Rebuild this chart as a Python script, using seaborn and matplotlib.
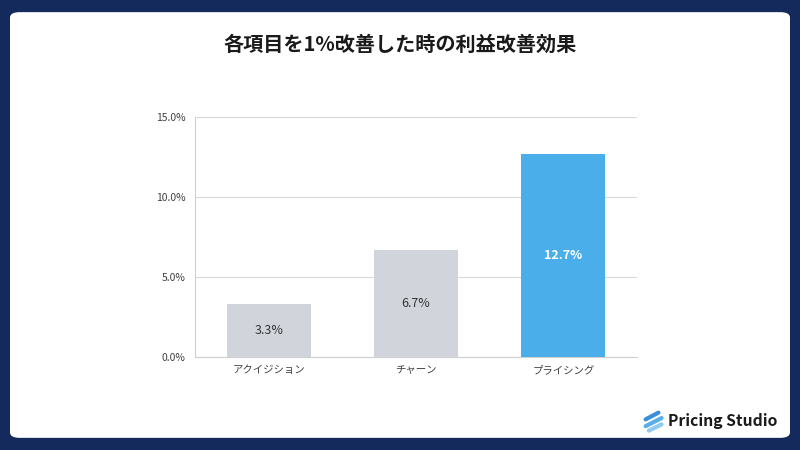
import pandas as pd
import matplotlib.pyplot as plt
import seaborn as sns
from matplotlib.patches import FancyBboxPatch
from matplotlib.ticker import FuncFormatter, FixedLocator
from matplotlib.lines import Line2D

# データ
項目 = ['アクイジション', 'チャーン', 'プライシング']
改善効果 = [0.033, 0.067, 0.127]
色 = ['#d1d5db', '#d1d5db', '#4aaeea']
ラベル色 = ['#333333', '#333333', '#ffffff']

df = pd.DataFrame({'項目': 項目, '効果': 改善効果})

sns.set_style('white')
plt.rcParams['font.family'] = ['Noto Sans CJK JP', 'DejaVu Sans']

fig = plt.figure(figsize=(8, 4.5), dpi=100)
fig.patch.set_facecolor('#142a5c')

# 白いカード
card = FancyBboxPatch((0.0125, 0.027), 0.975, 0.946,
                      boxstyle='round,pad=0,rounding_size=0.012',
                      transform=fig.transFigure, facecolor='white',
                      edgecolor='none', zorder=-10)
fig.add_artist(card)

fig.text(0.5, 0.902, '各項目を1%改善した時の利益改善効果', ha='center', va='center',
         fontsize=14.5, fontweight='bold', color='#1a1a1a')

ax = fig.add_axes([0.24375, 0.2067, 0.5525, 0.5333])
ax.set_facecolor('none')
sns.barplot(data=df, x='項目', y='効果', hue='項目', palette=色, legend=False,
            width=0.57, saturation=1, linewidth=0, ax=ax, zorder=3)

ax.set_ylim(0, 0.15)
ax.set_xlim(-0.5, 2.5)
ax.yaxis.set_major_locator(FixedLocator([0, 0.05, 0.10, 0.15]))
ax.yaxis.set_major_formatter(FuncFormatter(lambda v, p: f'{v*100:.1f}%'))
ax.grid(axis='y', color='#d9d9d9', linewidth=0.8, zorder=0)
ax.set_axisbelow(True)
ax.set_xlabel('')
ax.set_ylabel('')

for s in ['top', 'right']:
    ax.spines[s].set_visible(False)
for s in ['left', 'bottom']:
    ax.spines[s].set_color('#d0d0d0')
    ax.spines[s].set_linewidth(0.8)

ax.tick_params(axis='y', length=4, color='#d0d0d0', labelsize=7.5,
               labelcolor='#404040', pad=3)
ax.tick_params(axis='x', length=0, labelsize=7.5, labelcolor='#404040', pad=6)
ax.set_xticks([-0.5, 0.5, 1.5, 2.5], minor=True)
ax.tick_params(axis='x', which='minor', length=3, color='#d0d0d0')

for i, (bar, v) in enumerate(zip(ax.patches, 改善効果)):
    ax.text(bar.get_x() + bar.get_width() / 2, v / 2, f'{v*100:.1f}%',
            ha='center', va='center', fontsize=9,
            color=ラベル色[i], fontweight='bold' if i == 2 else 'normal', zorder=4)

# ロゴ
stripes = [((0.807, 0.068), (0.823, 0.083), '#3a8fd8'),
           ((0.807, 0.053), (0.827, 0.071), '#5aaee8'),
           ((0.811, 0.043), (0.827, 0.057), '#8fcaf0')]
for (x0, y0), (x1, y1), c in stripes:
    fig.add_artist(Line2D([x0, x1], [y0, y1], transform=fig.transFigure,
                          color=c, linewidth=3.0, solid_capstyle='round'))
fig.text(0.835, 0.064, 'Pricing Studio', ha='left', va='center',
         fontsize=11.3, fontweight='bold', color='#1a1a1a')

fig.savefig('out.png', dpi=100, facecolor=fig.get_facecolor())
